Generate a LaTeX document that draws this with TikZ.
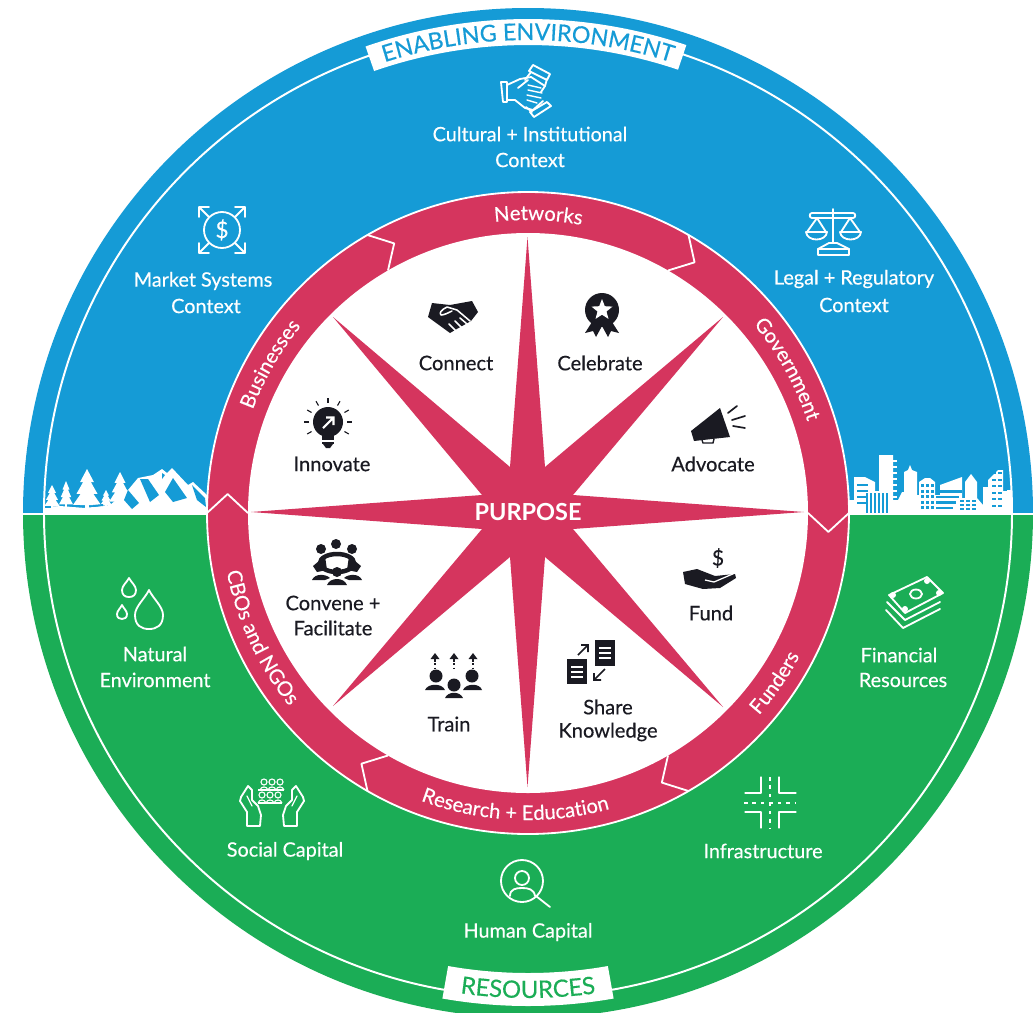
\documentclass[tikz,border=0pt]{standalone}
\usepackage{fontspec}
\usetikzlibrary{decorations.text}
\setmainfont[FakeBold=0.35,BoldFeatures={FakeBold=0}]{Lato}
\definecolor{bblue}{HTML}{159BD6}
\definecolor{bgreen}{HTML}{1BAD56}
\definecolor{bred}{HTML}{D5355E}
\definecolor{ink}{HTML}{1A1A22}
\newcommand{\arcf}{\fontsize{14.4}{16}\selectfont\color{white}}
\newcommand{\enabf}{\fontsize{16.5}{18}\selectfont\color{bblue}}
\newcommand{\resf}{\fontsize{17}{19}\selectfont\color{bgreen}}
\newcommand{\tinytree}[4]{% x, top, bottom, half width
  \fill[white] (#1,#2) -- ({#1+0.5*#4},{#2+0.33*(#3-#2)}) -- ({#1+0.28*#4},{#2+0.33*(#3-#2)})
   -- ({#1+0.75*#4},{#2+0.62*(#3-#2)}) -- ({#1+0.45*#4},{#2+0.62*(#3-#2)})
   -- ({#1+#4},{#2+0.9*(#3-#2)}) -- ({#1+0.13*#4},{#2+0.9*(#3-#2)}) -- ({#1+0.13*#4},#3)
   -- ({#1-0.13*#4},#3) -- ({#1-0.13*#4},{#2+0.9*(#3-#2)}) -- ({#1-#4},{#2+0.9*(#3-#2)})
   -- ({#1-0.45*#4},{#2+0.62*(#3-#2)}) -- ({#1-0.75*#4},{#2+0.62*(#3-#2)})
   -- ({#1-0.28*#4},{#2+0.33*(#3-#2)}) -- ({#1-0.5*#4},{#2+0.33*(#3-#2)}) -- cycle;}
\newcommand{\waterdrop}[4]{% cx, top, cy, r
  \draw[icw] (#1,#2) .. controls ({#1+0.3*#4},{#2+0.35*(#3-#2)}) and ({#1+#4},{#3-0.6*#4}) .. ({#1+#4},#3)
   .. controls ({#1+#4},{#3+0.75*#4}) and ({#1+0.55*#4},{#3+#4}) .. (#1,{#3+#4})
   .. controls ({#1-0.55*#4},{#3+#4}) and ({#1-#4},{#3+0.75*#4}) .. ({#1-#4},#3)
   .. controls ({#1-#4},{#3-0.6*#4}) and ({#1-0.3*#4},{#2+0.35*(#3-#2)}) .. cycle;}
\newcommand{\bust}[4]{% cx, head cy, head r, fill colour
  \fill[#4] (#1,#2) circle[radius=#3];}
\tikzset{
  wt/.style={text=white,font=\fontsize{14.1}{15}\selectfont,inner sep=0pt},
  bt/.style={text=ink,font=\fontsize{14.3}{15}\selectfont,inner sep=0pt},
  icw/.style={draw=white,line width=1.3pt,line join=round,line cap=round},
  ick/.style={draw=ink,line width=1.2pt,line cap=round},
  chev/.style={draw=white,line width=1.3pt,line join=round},
}
\begin{document}
\begin{tikzpicture}[x=0.025cm,y=-0.025cm]
\useasboundingbox (0,0) rectangle (1033,1013);
\fill[white] (0,0) rectangle (1033,1013);
\begin{scope}
\clip (0,0) rectangle (1033,1013);
% ---- polar frame centred on the wheel, y up
\begin{scope}[shift={(528,513)},y=0.025cm]
  \fill[bblue] (-505,0) arc[start angle=180,end angle=0,radius=505] -- cycle;
  \fill[bgreen] (-505,0) arc[start angle=180,end angle=360,radius=505] -- cycle;
  \draw[white,line width=1.4pt] (0,0) circle[radius=484];
  \draw[white,line width=1pt] (-505,-1) -- (505,-1);
  % banners
  \fill[white] (109.2:494) arc[start angle=109.2,end angle=71.3,radius=494] -- (71.3:468) arc[start angle=71.3,end angle=109.2,radius=468] -- cycle;
  \fill[white] (-100:493) arc[start angle=-100,end angle=-80,radius=493] -- (-80:460) arc[start angle=-80,end angle=-100,radius=460] -- cycle;
  \path[decorate,decoration={text along path,text align=center,text={|\enabf|ENABLING ENVIRONMENT}}]
     (114:473) arc[start angle=114,end angle=66,radius=473];
  \path[decorate,decoration={text along path,text align=center,text={|\resf|RESOURCES}}]
     (-112:485) arc[start angle=-112,end angle=-68,radius=485];
\end{scope}
% ---- skyline left: trees and mountains
\fill[white] (44,513) -- (44,508) -- (60,506) -- (85,508) -- (110,505) -- (128,490) -- (138,478) -- (153,475) -- (162,469) -- (167,473) -- (172,468) -- (188,485) -- (193,482) -- (207,495) -- (207,513) -- cycle;
\tinytree{52}{485}{509}{8}
\tinytree{66}{481}{507}{7}
\tinytree{87}{469}{509}{14}
\tinytree{106}{490}{507}{6}
\tinytree{120}{472}{505}{11}
\fill[bblue] (124,500) -- (128,490) -- (139,503) -- (132,509) -- cycle;
\fill[bblue] (140,479) -- (148,479) -- (159,495) -- (150,502) -- cycle;
\fill[bblue] (173,478) -- (187,498) -- (173,502) -- (165,492) -- cycle;
\fill[bblue] (192,485) -- (205,498) -- (206,507) -- (197,500) -- cycle;
\fill[bblue] (162,473) -- (165,475) -- (162,479) -- cycle;
\fill[bblue] (45,506) -- (51,506) -- (51,508) -- (45,508) -- cycle;
\fill[bblue] (72,505) -- (80,505) -- (80,507) -- (72,507) -- cycle;
\fill[bblue] (93,505) -- (103,504) -- (103,506) -- (93,507) -- cycle;
% ---- skyline right: city
\fill[white] (849,513) -- (849,500) -- (854,500) -- (854,477) -- (865,477) -- (875,482) -- (875,491) -- (879,491) -- (879,455) -- (893,455) -- (893,500) -- (898,500) -- (902,492) -- (904,492) -- (904,472) -- (908,470) -- (910,465) -- (912,470) -- (917,472) -- (917,495) -- (919,495) -- (919,482) -- (925,478) -- (930,478) -- (935,482) -- (935,495) -- (940,495) -- (940,485) -- (962,477) -- (962,498) -- (965,498) -- (965,482) -- (971,474) -- (977,482) -- (977,498) -- (983,505) -- (983,487) -- (988,487) -- (988,480) -- (998,470) -- (1003,470) -- (1003,491) -- (1007,491) -- (1007,490) -- (1012,490) -- (1012,513) -- cycle;
\foreach \i in {0,1,2,3} {\fill[bblue] (857,{484+\i*6}) rectangle (868,{486+\i*6});}
\foreach \x in {866,870,874,878,882,886} {\fill[bblue] (\x,493) rectangle ({\x+1.5},513);}
\foreach \i in {0,...,7} {\fill[white] (893,{460+\i*6}) rectangle (897,{461.5+\i*6});}
\foreach \r in {0,1,2,3,4} {\foreach \x in {921,926,931} {\fill[bblue] (\x,{484+\r*5.5}) rectangle ({\x+3},{487+\r*5.5});}}
\foreach \i in {0,1,2,3} {\fill[bblue] (936,{490+\i*5.5}) rectangle ({962-\i*3},{492.5+\i*5.5});}
\foreach \r in {0,1,2} {\foreach \x in {960,966,972} {\fill[bblue] (\x,{500+\r*4}) rectangle ({\x+4},{502+\r*4});}}
\foreach \r in {0,1,2,3,4,5} {\foreach \x in {992,998} {\fill[bblue] (\x,{472+\r*6.5}) rectangle ({\x+4},{474+\r*6.5});}}
% ---- red ring, white disc, star
\begin{scope}[shift={(528,513)},y=0.025cm]
  \fill[bred] (0,0) circle[radius=321];
  \draw[white,line width=1.3pt] (0,0) circle[radius=321];
  \fill[white] (0,0) circle[radius=280];
  \foreach \a in {180,120,60,0,-60,-120} {
    \draw[chev] (\a:321) -- ({\a-3.6}:301) -- (\a:280);
  }
  \path[decorate,decoration={text along path,text align=center,text={|\arcf|Networks}}]
     (113:293) arc[start angle=113,end angle=63,radius=293];
  \path[decorate,decoration={text along path,text align=center,text={|\arcf|Businesses}}]
     (178:294) arc[start angle=178,end angle=122,radius=294];
  \path[decorate,decoration={text along path,text align=center,text={|\arcf|Government}}]
     (57:294) arc[start angle=57,end angle=1,radius=294];
  \path[decorate,decoration={text along path,text align=center,text={|\arcf|Funders}}]
     (-60:307) arc[start angle=-60,end angle=-9,radius=307];
  \path[decorate,decoration={text along path,text align=center,text={|\arcf|Research + Education}}]
     (-127:307) arc[start angle=-127,end angle=-58,radius=307];
  \path[decorate,decoration={text along path,text align=center,text={|\arcf|CBOs and NGOs}}]
     (165:307) arc[start angle=165,end angle=245,radius=307];
\end{scope}
\fill[bred] (527.5,237) -- (545,467) -- (723,317) -- (573,495) -- (804,512) -- (573,529) -- (723,707) -- (545,557) -- (527.5,787) -- (510,557) -- (333,706) -- (482,529) -- (251,512) -- (482,495) -- (333,317) -- (510,467) -- cycle;
% ---- labels
\node[text=white,font=\fontsize{16.7}{18}\selectfont\bfseries,inner sep=0pt] (purpose) at (528,512) {PURPOSE};
\node[wt] (l1a) at (530,134) {Cultural + Institutional};
\node[wt] (l1b) at (530,160) {Context};
\node[wt] (l2a) at (203,281) {Market Systems};
\node[wt] (l2b) at (206,306) {Context};
\node[wt] (l3a) at (854,279) {Legal + Regulatory};
\node[wt] (l3b) at (854,305) {Context};
\node[wt] (l4a) at (155,654) {Natural};
\node[wt] (l4b) at (155,680) {Environment};
\node[wt] (l5a) at (899,655) {Financial};
\node[wt] (l5b) at (903,680) {Resources};
\node[wt] (l6) at (285,851) {Social Capital};
\node[wt] (l7) at (528,932) {Human Capital};
\node[wt] (l8) at (763,851) {Infrastructure};
\node[bt] (k1) at (456,363) {Connect};
\node[bt] (k2) at (600,363) {Celebrate};
\node[bt] (k3) at (332,464) {Innovate};
\node[bt] (k4) at (713,464) {Advocate};
\node[bt] (k5a) at (333,603) {Convene +};
\node[bt] (k5b) at (333,628) {Facilitate};
\node[bt] (k6) at (449,724) {Train};
\node[bt] (k7) at (711,613) {Fund};
\node[bt] (k8a) at (608,707) {Share};
\node[bt] (k8b) at (608,732) {Knowledge};
% ---- white icons
% Cultural: three hands
\draw[icw] (501,82) -- (507,82) -- (507,102) -- (503,102) -- cycle;
\draw[icw] (533,65) -- (550,74) -- (547,80) -- (529,71) -- cycle;
\draw[icw] (551,106) -- (534,117) -- (530,112) -- (547,102) -- cycle;
\draw[icw] (507,85) -- (520,79) -- (531,77) -- (545,86) -- (541,92);
\draw[icw] (507,100) -- (515,100) -- (525,108) -- (533,110) -- (543,101);
\draw[icw] (531,72) -- (525,80);
\draw[icw] (547,79) -- (545,86);
\draw[icw] (518,88) -- (528,80);
\draw[icw,line width=1pt] (528,85) -- (541,88) (528,90) -- (542,93) (527,95) -- (541,98) (527,100) -- (537,103);
\draw[icw] (532,112) -- (526,107);
% Market: circle with four arrows
\draw[icw] (222,230) circle[radius=18];
\node[text=white,font=\fontsize{16}{16}\selectfont,inner sep=0pt] (dollar1) at (222,230) {\$};
\draw[icw] (209,217) -- (199,207) (199,217) -- (199,207) -- (209,207);
\draw[icw] (235,217) -- (245,207) (235,207) -- (245,207) -- (245,217);
\draw[icw] (209,243) -- (199,253) (199,243) -- (199,253) -- (209,253);
\draw[icw] (235,243) -- (245,253) (245,243) -- (245,253) -- (235,253);
% Legal: scales
\draw[icw] (812,213) -- (853,213) .. controls (856,213) and (856,218) .. (853,218) -- (812,218) .. controls (809,218) and (809,213) .. (812,213) -- cycle;
\draw[icw] (833,209) -- (833,243);
\draw[icw] (807,232) -- (817,218) -- (826,232);
\draw[icw] (806,232) -- (827,232) .. controls (826,242) and (807,242) .. (806,232) -- cycle;
\draw[icw] (841,232) -- (850,218) -- (860,232);
\draw[icw] (840,232) -- (861,232) .. controls (860,242) and (841,242) .. (840,232) -- cycle;
\draw[icw] (829,243) -- (837,243) -- (849,249) -- (849,255) -- (818,255) -- (818,249) -- cycle;
\draw[icw] (818,249) -- (849,249);
% Natural: drops
\waterdrop{129}{578}{590}{7}
\waterdrop{122}{605}{614}{5}
\waterdrop{149}{590}{615}{14}
% Financial: bills
\draw[icw] (889,595) -- (927,577) -- (943,593) -- (905,613) -- cycle;
\draw[icw] (916,594) ellipse[x radius=6,y radius=4.5];
\fill[white] (893,595) circle[radius=3] (927,581) circle[radius=3] (939,593) circle[radius=3] (905,609) circle[radius=3];
\draw[icw] (887,602) -- (905,620) -- (940,602);
\draw[icw] (886,610) -- (903,628) -- (940,609);
% Social: hands and people
\draw[icw] (247,826) -- (247,812) -- (240,801) -- (241,797) -- (248,786) -- (252,790) -- (252,800) -- (258,806) -- (261,815) -- (260,826) -- cycle;
\draw[icw] (297,826) -- (297,812) -- (304,801) -- (303,797) -- (296,786) -- (292,790) -- (292,800) -- (286,806) -- (283,815) -- (284,826) -- cycle;
\draw[icw,line width=0.9pt] (247,796) -- (252,806) (297,796) -- (292,806);
\foreach \x in {264,272,280} {\draw[white,line width=0.8pt] (\x,782) circle[radius=3];
  \draw[white,line width=0.8pt] ({\x-4},790) .. controls ({\x-3},786) and ({\x+3},786) .. ({\x+4},790);}
\foreach \x in {262,270,278} {\draw[white,line width=0.8pt] (\x,795) circle[radius=3];
  \draw[white,line width=0.8pt] ({\x-4},803) .. controls ({\x-3},799) and ({\x+3},799) .. ({\x+4},803);}
\draw[white,line width=0.8pt] (258,790) -- (284,790) (258,803) -- (282,803);
% Human: magnifier
\draw[icw] (522,881) circle[radius=21];
\draw[icw] (522,878) circle[radius=7];
\draw[icw] (510,896) .. controls (510,889) and (516,888) .. (522,888) .. controls (528,888) and (534,889) .. (535,896);
\draw[icw] (536,896) -- (550,907);
% Infrastructure: crossroads
\draw[icw,line width=0.9pt] (761,777) -- (761,793) -- (745,793);
\draw[icw,line width=0.9pt] (779,777) -- (779,793) -- (796,793);
\draw[icw,line width=0.9pt] (761,828) -- (761,812) -- (745,812);
\draw[icw,line width=0.9pt] (779,828) -- (779,812) -- (796,812);
\draw[white,line width=1pt,dash pattern=on 2.5pt off 3.5pt] (770,777) -- (770,829);
\draw[white,line width=1pt,dash pattern=on 2.5pt off 3.5pt] (744,803) -- (796,803);
% ---- black icons
% Connect
\fill[ink] (432,303) -- (450,305) -- (472,301) -- (478,312) -- (471,321) -- (455,330) -- (450,333) -- (428,317) -- cycle;
\draw[white,line width=1.1pt,line cap=round,line join=round] (470,321) -- (457,310) -- (447,307) .. controls (441,310) and (439,313) .. (441,315) .. controls (444,315) and (448,313) .. (452,311);
\draw[white,line width=1.1pt,line cap=round] (460,318) -- (467,324) (455,321) -- (462,328) (449,324) -- (456,331);
% Celebrate
\fill[ink] (592,322) -- (585,333) -- (593,331) -- (596,337) -- (602,326) -- (608,337) -- (611,331) -- (619,333) -- (612,322) -- cycle;
\fill[ink] (602,310) circle[radius=17];
\fill[white] (602,299) -- (604.8,306.2) -- (612.5,306.6) -- (606.5,311.5) -- (608.5,318.9) -- (602,314.7) -- (595.5,318.9) -- (597.5,311.5) -- (591.5,306.6) -- (599.2,306.2) -- cycle;
% Innovate
\foreach \a in {0,30,...,330} {\ifnum\a=240\else\ifnum\a=270\else\ifnum\a=300\else
  \draw[ink,line width=0.8pt] ({328+19*cos(\a)},{422-19*sin(\a)}) -- ({328+24*cos(\a)},{422-24*sin(\a)});\fi\fi\fi}
\fill[ink] (328,422) circle[radius=15];
\fill[ink] (322,434) rectangle (334,444);
\fill[ink] (323,444) -- (333,444) -- (330,448) -- (326,448) -- cycle;
\draw[white,line width=0.8pt] (322,441) -- (334,441);
\draw[white,line width=1.5pt] (323,428) -- (333,418) (326,417.5) -- (333.5,417.5) -- (333.5,425);
% Advocate
\fill[ink] (691,431) -- (720,408) -- (730,437) -- (694,441) -- cycle;
\draw[ink,line width=1pt] (702,440) -- (703,443) -- (713,443) -- (714,439);
\draw[ick] (728,413) -- (737,406) (732,420) -- (745,416) (733,426) -- (745,428);
% Fund
\fill[ink] (683,572) -- (697,569) -- (715,576) -- (735,574) -- (736,578) -- (720,588) -- (703,589) -- (685,584) -- cycle;
\draw[white,line width=0.9pt] (705,580) -- (714,582) -- (735,573);
\node[text=ink,font=\fontsize{15}{15}\selectfont,inner sep=0pt] (dollar2) at (718,558) {\$};
% Convene
\foreach \p/\q in {336/544,321/549,352/549} {\fill[ink] (\p,\q) circle[radius=5];}
\draw[ink,line width=3.2pt] (337,563) ellipse[x radius=17,y radius=9];
\fill[ink] (337,572) circle[radius=5];
\fill[ink] (313,566) -- (325,556) -- (327,570) -- (317,572) -- cycle;
\fill[ink] (361,566) -- (349,556) -- (347,570) -- (357,572) -- cycle;
\fill[ink] (327,585) .. controls (330,577) and (344,577) .. (347,585) -- cycle;
\fill[ink] (312,580) .. controls (315,573) and (326,574) .. (330,578) -- (325,580) -- cycle;
\fill[ink] (362,580) .. controls (359,573) and (348,574) .. (344,578) -- (349,580) -- cycle;
% Train
\bust{436}{676}{6.5}{ink}
\bust{472}{676}{6.5}{ink}
\bust{454}{685}{6.5}{ink}
\fill[ink] (425,690) .. controls (428,683) and (442,683) .. (445,690) -- cycle;
\fill[ink] (463,690) .. controls (466,683) and (480,683) .. (482,690) -- cycle;
\fill[ink] (445,698) .. controls (448,691) and (460,691) .. (463,698) -- cycle;
\foreach \x in {435,454,473} {
  \fill[ink] (\x,653) -- ({\x+4.5},659) -- ({\x-4.5},659) -- cycle;
  \draw[ink,line width=1.2pt] (\x,658) -- (\x,662);
  \draw[ink,line width=1pt,dash pattern=on 1.4pt off 1.8pt] (\x,663) -- (\x,669);
}
% Share
\fill[ink] (595,640) rectangle (615,666);
\fill[ink] (567,659) rectangle (587,684);
\foreach \y in {648,653,658} {\draw[white,line width=0.9pt] (599,\y) -- (611,\y);}
\foreach \y in {667,672,677} {\draw[white,line width=0.9pt] (571,\y) -- (583,\y);}
\draw[ink,line width=1.1pt] (578,655) -- (588,645) (581,645) -- (588,645) -- (588,652);
\draw[ink,line width=1.1pt] (605,669) -- (594,680) (594,673) -- (594,680) -- (601,680);
\end{scope}
\end{tikzpicture}
\end{document}
